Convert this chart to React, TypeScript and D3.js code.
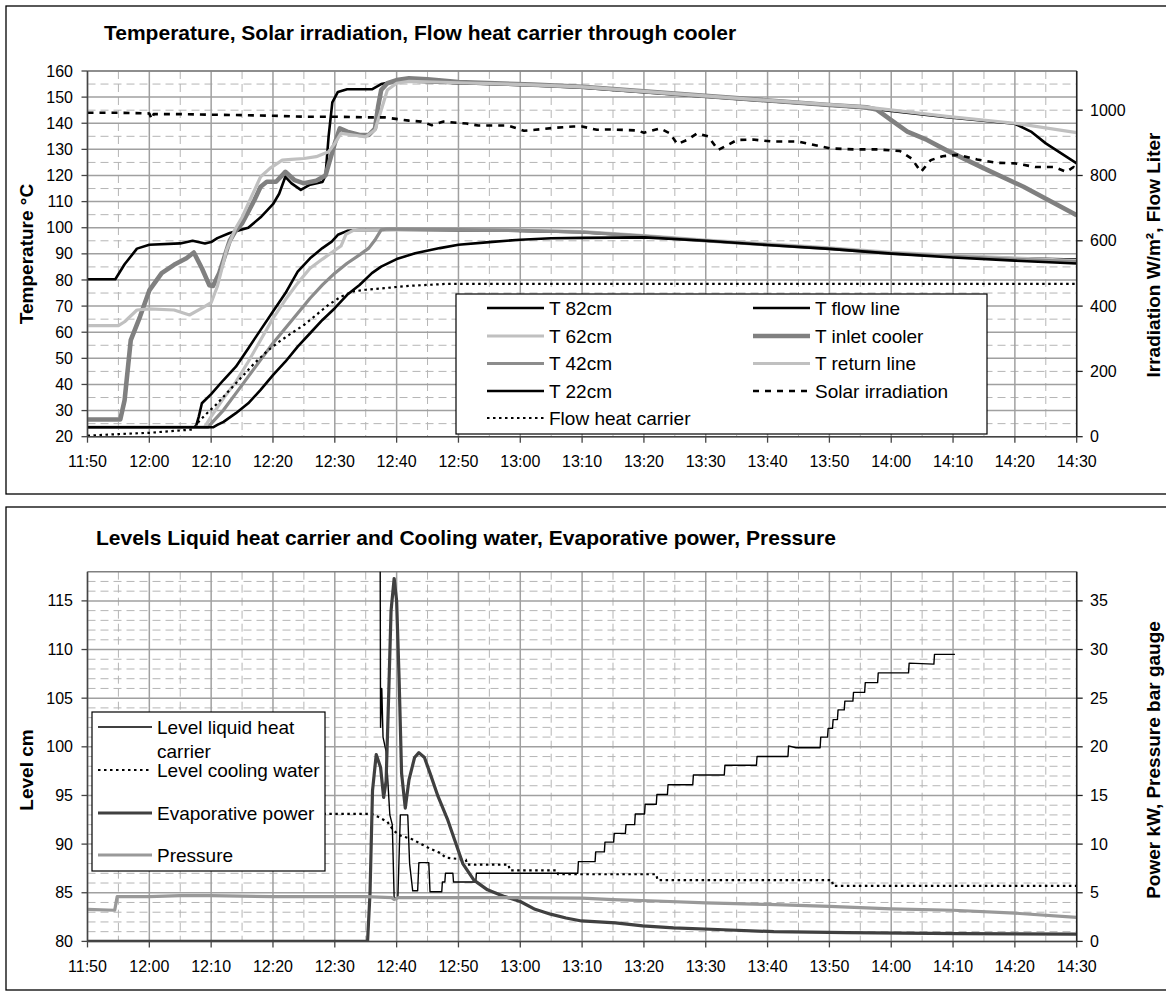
import React from "react";
import * as d3 from "d3";

type P = [number, number];

// ---------- axis labels / ticks ----------
const timeLabels = ["11:50","12:00","12:10","12:20","12:30","12:40","12:50","13:00","13:10","13:20","13:30","13:40","13:50","14:00","14:10","14:20","14:30"];
const timeMinutes = [0,10,20,30,40,50,60,70,80,90,100,110,120,130,140,150,160]; // minutes after 11:50
const tempTicks = [20,30,40,50,60,70,80,90,100,110,120,130,140,150,160];
const irrTicks = [0,200,400,600,800,1000];
const levelTicks = [80,85,90,95,100,105,110,115];
const powerTicks = [0,5,10,15,20,25,30,35];

// ---------- top chart series: [minutes after 11:50, value] ----------
const T82: P[] = [[0,23.6],[17.5,23.6],[18,27.7],[18.5,32.8],[20,36.3],[22,41.7],[24,46.8],[26,53.8],[28,60.9],[30,67.9],[32,74.9],[34,83.2],[36,88.3],[38,92.2],[39.5,94.7],[40.5,97.3],[42,98.8],[44,99.1],[50,99.2],[60,99],[70,98.8],[80,98.3],[90,96.8],[100,95],[110,93.6],[120,92.1],[130,90.3],[140,89.2],[150,88.3],[160,87.8]];
const T62: P[] = [[0,23.6],[18.9,23.6],[20,27.7],[22,34.7],[24,41],[26,48.7],[28,57],[30,65.3],[32,72.4],[34,78.8],[36,84.5],[38,88],[39.5,90.5],[41,93],[41.8,97.5],[43,99],[50,99.3],[60,99.2],[70,99],[80,98.5],[90,97],[100,95.3],[110,93.8],[120,92.3],[130,90.6],[140,89.4],[150,88.4],[160,87.4]];
const T42: P[] = [[0,23.6],[19.5,23.6],[20,25],[22,30.2],[24,36.6],[26,43],[28,49.4],[30,55.8],[32,61.5],[34,67.3],[36,73],[38,78.1],[40,82.6],[42,86.4],[44,89.6],[45.5,92.2],[46.5,95.3],[47.5,99.2],[48.5,99.5],[60,99.3],[70,99],[80,98.3],[90,96.8],[100,95],[110,93.4],[120,92],[130,90.2],[140,89],[150,87.9],[160,87]];
const T22: P[] = [[0,23.6],[20.3,23.6],[21,24.5],[22,25.7],[24,29],[26,32.8],[28,37.9],[30,43.6],[32,48.7],[34,54.5],[36,59.6],[38,64.7],[40,69.2],[42,74.3],[44,78.1],[46,82.6],[47.5,85.1],[50,88],[53,90.2],[57,92.2],[60,93.5],[65,94.5],[70,95.4],[75,96],[80,96.1],[90,96.3],[100,95],[110,93.4],[120,91.9],[130,90.1],[140,88.6],[150,87.4],[160,86.3]];
const TFlowLine: P[] = [[0,80.3],[4.5,80.3],[6,86],[8,92],[10,93.5],[15,94],[17,95],[19,94],[20,94.5],[21,96],[23,98],[26,100],[28,104],[30,109],[31,113],[32,119.5],[33,117],[34.5,114.5],[36,116.5],[38,117.5],[38.5,120],[39,135],[39.6,148],[40.5,152],[42,153],[46,153],[47.5,155],[49,155.7],[52,156],[60,155.3],[72,154.5],[80,153.6],[101,150],[120,146.8],[126,145.8],[139,142.3],[150,139.8],[152.6,136.8],[155,132.3],[160,124.6]];
const TInletCooler: P[] = [[0,26.6],[5.3,26.6],[6,34],[7,57],[8.5,66],[10,76],[12,82.6],[14,85.8],[16,88.3],[17.2,90.5],[18.5,84.5],[19.7,78],[20.3,77.7],[21.3,82.6],[22,87.7],[23,95],[24,99],[25,101.6],[27,110.6],[28,115.7],[29,117.6],[30.5,117.6],[32,121.4],[33.5,118.2],[35,117],[37,118],[38.5,120],[40,132.3],[40.8,138],[42,136.8],[44,135.5],[45.5,135.5],[46.5,138],[47,146.3],[47.5,152.7],[48.5,155.3],[50,156.5],[52,157.2],[55,156.8],[60,155.8],[72,154.8],[80,154],[101,150.3],[120,147],[126,146.1],[127.6,145.3],[130,141.2],[132.6,136.8],[135.8,133.6],[138.9,129.7],[145,122.7],[151.4,115.7],[160,104.8]];
const TReturnLine: P[] = [[0,62.5],[5,62.5],[6,64],[8,68.5],[10,68.9],[14,68.5],[16.5,66.6],[18.5,69.2],[20,71.3],[21,77.5],[22.5,91.5],[24,100],[25,104],[26.5,111.8],[28,119.5],[29.5,122.7],[31.5,125.9],[33,126.2],[35,126.5],[37,127.2],[39,129.1],[40,132.3],[41,136.1],[43,135.5],[45,134.8],[46.5,137.4],[47.5,145],[48.5,152.7],[50,155.3],[52,156],[60,155.5],[72,154.7],[80,153.9],[101,150.3],[120,147.1],[126,146.2],[139,142.6],[150,140],[160,136.4]];
const SolarIrradiation: P[] = [[0,992],[5,992],[10,990],[10.4,972],[10.7,988],[15,988],[20,986],[25,985],[30,983],[35,980],[40,980],[45,978],[48,978],[52,968],[54,965],[55.7,954],[57.6,965],[61.3,959],[63.2,953],[68,953],[70.6,937],[72.4,940],[75.5,946],[78.6,950],[80,950],[82.4,940],[84.5,941],[88.9,938],[90,931],[92.6,944],[94.2,929],[95.4,896],[97,909],[98.6,929],[100.4,920],[102,878],[103.5,893],[105.1,909],[107.6,910],[110.8,904],[115,904],[120.1,883],[123.9,880],[127.6,880],[131.4,875],[133.3,852],[134.8,811],[136.4,847],[138.3,859],[140.8,863],[143.9,849],[147,839],[150.1,837],[153.3,826],[156.4,826],[158.3,811],[159.5,826],[160,822]];
const FlowHeatCarrier: P[] = [[0,3],[5,8],[10,12],[17,22],[18,46],[19,66],[21,102],[23,143],[25,184],[27,225],[29,261],[31,291],[33,317],[35,342],[37,373],[39,404],[41,429],[43,445],[45,450],[48,455],[52,462],[58,468],[160,468]];

// ---------- bottom chart series ----------
const LevelLiquid: P[] = [[47.3,130],[47.4,102],[47.6,106],[47.8,101],[48.3,99.5],[48.9,93],[49.3,92],[49.6,84.5],[50.2,84.5],[50.6,93],[51.8,93],[52.1,88],[52.6,85.2],[53.4,85.2],[53.6,88.1],[55.2,88.1],[55.4,85.1],[57.3,85.1],[57.4,86.1],[57.8,86.1],[57.9,87],[59.1,87],[59.2,86.1],[62.8,86.1],[62.9,87],[79.3,87],[79.4,88.2],[82.1,88.2],[82.2,89.2],[83.6,89.2],[83.7,90.2],[85.1,90.2],[85.2,91.1],[87,91.1],[87.1,92],[88.5,92],[88.6,93.1],[90.1,93.1],[90.2,94.1],[92,94.1],[92.1,95.1],[93.8,95.1],[93.9,96.1],[97.9,96.1],[98,97.1],[103,97.1],[103.1,98.1],[108.2,98.1],[108.3,99],[113.3,99],[113.4,100.1],[114.6,99.9],[118.5,99.9],[118.6,101],[119.7,101],[119.8,101.9],[120.5,101.9],[120.6,102.8],[121.3,102.8],[121.4,103.8],[122.4,103.8],[122.5,104.7],[123.8,104.7],[123.9,105.6],[125.7,105.6],[125.8,106.6],[127.8,106.6],[127.9,107.6],[132.8,107.6],[132.9,108.6],[136.9,108.5],[137,109.5],[140.3,109.5]];
const LevelCoolingWater: P[] = [[10,93.1],[46,93.1],[47,92.8],[48.5,92.3],[49.5,91.4],[50.5,90.9],[52.5,90.5],[54,90],[55.5,89.5],[57,89.1],[58,88.6],[61.2,88.4],[61.4,87.9],[68.1,87.9],[68.3,87.3],[75.9,87.3],[76.1,86.9],[92,86.9],[92.2,86.3],[120.4,86.3],[120.6,85.7],[160,85.7]];
const EvaporativePower: P[] = [[0,0],[45.3,0],[45.7,5],[46.1,15.5],[46.7,19.2],[47.4,17.9],[47.9,14.8],[48.3,16.5],[48.7,25],[49.1,34],[49.6,37.3],[50,35],[50.4,27],[50.8,17.3],[51.4,13.7],[52,16.6],[52.9,18.9],[53.6,19.4],[54.5,18.9],[55.4,17.3],[56.7,14.9],[58.2,12.6],[59.4,10.4],[60.7,8],[62.5,6.3],[64.7,5.3],[67.5,4.6],[70,4.1],[72.4,3.3],[74.9,2.8],[77.4,2.4],[79.9,2.1],[85.4,1.9],[89.8,1.6],[94.8,1.4],[102.9,1.2],[111,1.0],[122.9,0.9],[140.9,0.8],[160,0.75]];
const Pressure: P[] = [[0,3.3],[4.4,3.2],[4.8,4.6],[10,4.6],[15,4.7],[20,4.7],[30,4.6],[45,4.6],[49.2,4.5],[49.6,4.3],[50.3,4.5],[60,4.5],[70,4.5],[80,4.45],[85,4.3],[92,4.15],[100,3.95],[110,3.8],[120,3.6],[130,3.35],[140,3.2],[150,2.9],[160,2.46]];

const FONT = "'Liberation Sans', Arial, Helvetica, sans-serif";

type Series = { name: string; data: P[]; axis: "L" | "R"; stroke: string; width: number; dash?: string };

const topSeries: Series[] = [
  { name: "T 82cm", data: T82, axis: "L", stroke: "#000", width: 2.6 },
  { name: "T flow line", data: TFlowLine, axis: "L", stroke: "#000", width: 2.6 },
  { name: "T 62cm", data: T62, axis: "L", stroke: "#c0c0c0", width: 3.2 },
  { name: "T inlet cooler", data: TInletCooler, axis: "L", stroke: "#808080", width: 4.6 },
  { name: "T 42cm", data: T42, axis: "L", stroke: "#8c8c8c", width: 3.2 },
  { name: "T return line", data: TReturnLine, axis: "L", stroke: "#c0c0c0", width: 3.2 },
  { name: "T 22cm", data: T22, axis: "L", stroke: "#000", width: 2.6 },
  { name: "Solar irradiation", data: SolarIrradiation, axis: "R", stroke: "#000", width: 2.6, dash: "6,6" },
  { name: "Flow heat carrier", data: FlowHeatCarrier, axis: "R", stroke: "#000", width: 2.2, dash: "2.5,3.5" },
];

const bottomSeries: Series[] = [
  { name: "Level liquid heat carrier", data: LevelLiquid, axis: "L", stroke: "#000", width: 1.4 },
  { name: "Level cooling water", data: LevelCoolingWater, axis: "L", stroke: "#000", width: 2.2, dash: "2.5,3.5" },
  { name: "Evaporative power", data: EvaporativePower, axis: "R", stroke: "#404040", width: 3.2 },
  { name: "Pressure", data: Pressure, axis: "R", stroke: "#999", width: 3.2 },
];

const X0 = 87.5, X1 = 1076.7;

function Panel(props: {
  id: string; boxY0: number; boxY1: number; title: string; titleX: number; titleY: number;
  py0: number; py1: number; yL: d3.ScaleLinear<number, number>; yR: d3.ScaleLinear<number, number>;
  lTicks: number[]; rTicks: number[]; minorY: number[]; majorY: number[];
  leftTitle: string; leftTitleY: number; rightTitle: string; rightTitleY: number;
  series: Series[]; legend: React.ReactNode;
}) {
  const { yL, yR, py0, py1 } = props;
  const x = d3.scaleLinear().domain([0, 160]).range([X0, X1]);
  const minorX = d3.range(5, 160, 10);
  return (
    <g>
      <rect x={6} y={props.boxY0} width={1170} height={props.boxY1 - props.boxY0} fill="#fff" stroke="#000" strokeWidth={1.3} />
      <text x={props.titleX} y={props.titleY} fontFamily={FONT} fontWeight="bold" fontSize={21}>{props.title}</text>
      <rect x={X0} y={py0} width={X1 - X0} height={py1 - py0} fill="#fff" />
      {props.minorY.map((v) => (
        <line key={"my" + v} x1={X0} x2={X1} y1={yL(v)} y2={yL(v)} stroke="#b5b5b5" strokeWidth={1} strokeDasharray="8,5" />
      ))}
      {minorX.map((m) => (
        <line key={"mx" + m} x1={x(m)} x2={x(m)} y1={py0} y2={py1} stroke="#b5b5b5" strokeWidth={1} strokeDasharray="8,5" />
      ))}
      {props.majorY.map((v) => (
        <line key={"gy" + v} x1={X0} x2={X1} y1={yL(v)} y2={yL(v)} stroke="#a0a0a0" strokeWidth={1.5} />
      ))}
      {timeMinutes.map((m) => (
        <line key={"gx" + m} x1={x(m)} x2={x(m)} y1={py0} y2={py1} stroke="#a0a0a0" strokeWidth={1.5} />
      ))}
      <line x1={X0} x2={X1} y1={py0} y2={py0} stroke="#808080" strokeWidth={1.5} />
      <clipPath id={props.id}>
        <rect x={X0} y={py0} width={X1 - X0} height={py1 - py0} />
      </clipPath>
      <g clipPath={`url(#${props.id})`}>
        {props.series.map((s) => {
          const ys = s.axis === "L" ? yL : yR;
          const gen = d3.line<P>().x((d) => x(d[0])).y((d) => ys(d[1]));
          return (
            <path key={s.name} d={gen(s.data) || ""} fill="none" stroke={s.stroke} strokeWidth={s.width}
              strokeDasharray={s.dash} strokeLinejoin="round" />
          );
        })}
      </g>
      <line x1={X0} x2={X0} y1={py0} y2={py1} stroke="#444" strokeWidth={1.5} />
      <line x1={X1} x2={X1} y1={py0} y2={py1} stroke="#222" strokeWidth={1.5} />
      <line x1={X0} x2={X1} y1={py1} y2={py1} stroke="#444" strokeWidth={1.5} />
      {timeMinutes.map((m, i) => (
        <g key={"xt" + m}>
          <line x1={x(m)} x2={x(m)} y1={py1} y2={py1 + 6} stroke="#444" strokeWidth={1.3} />
          <text x={x(m)} y={py1 + 30.5} textAnchor="middle" fontFamily={FONT} fontSize={16}>{timeLabels[i]}</text>
        </g>
      ))}
      {props.lTicks.map((v) => (
        <g key={"lt" + v}>
          <line x1={X0 - 6} x2={X0} y1={yL(v)} y2={yL(v)} stroke="#444" strokeWidth={1.3} />
          <text x={73} y={yL(v)} dy="0.35em" textAnchor="end" fontFamily={FONT} fontSize={16}>{v}</text>
        </g>
      ))}
      {props.rTicks.map((v) => (
        <g key={"rt" + v}>
          <line x1={X1} x2={X1 + 6} y1={yR(v)} y2={yR(v)} stroke="#222" strokeWidth={1.3} />
          <text x={1090} y={yR(v)} dy="0.35em" textAnchor="start" fontFamily={FONT} fontSize={16}>{v}</text>
        </g>
      ))}
      <text transform={`translate(26,${props.leftTitleY}) rotate(-90)`} dy="0.35em" textAnchor="middle"
        fontFamily={FONT} fontWeight="bold" fontSize={19}>{props.leftTitle}</text>
      <text transform={`translate(1153,${props.rightTitleY}) rotate(-90)`} dy="0.35em" textAnchor="middle"
        fontFamily={FONT} fontWeight="bold" fontSize={19}>{props.rightTitle}</text>
      {props.legend}
    </g>
  );
}

function LegendItem({ s, x, y, len, label }: { s: Series; x: number; y: number; len: number; label?: React.ReactNode }) {
  return (
    <g>
      <line x1={x} x2={x + len} y1={y} y2={y} stroke={s.stroke} strokeWidth={s.width} strokeDasharray={s.dash} />
      <text x={x + len + 5} y={y} dy="0.35em" fontFamily={FONT} fontSize={19}>{label ?? s.name}</text>
    </g>
  );
}

export default function App() {
  const topY0 = 71, topY1 = 436.7;
  const yT = d3.scaleLinear().domain([20, 160]).range([topY1, topY0]);
  const yIrr = d3.scaleLinear().domain([0, 1120]).range([topY1, topY0]);
  const botY0 = 571.7, botY1 = 941.4;
  const yLev = d3.scaleLinear().domain([80, 118]).range([botY1, botY0]);
  const yPow = d3.scaleLinear().domain([0, 38]).range([botY1, botY0]);

  const byName = (arr: Series[], n: string) => arr.find((s) => s.name === n)!;
  const leftCol = ["T 82cm", "T 62cm", "T 42cm", "T 22cm", "Flow heat carrier"];
  const rightCol = ["T flow line", "T inlet cooler", "T return line", "Solar irradiation"];
  const rowsTop = [308, 336, 363.5, 391, 418];

  const topLegend = (
    <g>
      <rect x={456} y={294} width={531} height={140} fill="#fff" stroke="#000" strokeWidth={1.2} />
      {leftCol.map((n, i) => (
        <LegendItem key={n} s={byName(topSeries, n)} x={487} y={rowsTop[i]} len={57} />
      ))}
      {rightCol.map((n, i) => (
        <LegendItem key={n} s={byName(topSeries, n)} x={753} y={rowsTop[i]} len={57} />
      ))}
    </g>
  );

  const botLegend = (
    <g>
      <rect x={92} y={712} width={233} height={159} fill="#fff" stroke="#000" strokeWidth={1.2} />
      <LegendItem s={bottomSeries[0]} x={98} y={727} len={54} label="Level liquid heat" />
      <text x={157} y={751} dy="0.35em" fontFamily={FONT} fontSize={19}>carrier</text>
      <LegendItem s={bottomSeries[1]} x={98} y={770} len={54} />
      <LegendItem s={bottomSeries[2]} x={98} y={813} len={54} />
      <LegendItem s={bottomSeries[3]} x={98} y={855} len={54} />
    </g>
  );

  const topMinor = [25, 35, 45, 55, 65, 75, 85, 95, 105, 115, 125, 135, 145, 155];
  const botMinor = d3.range(81, 118).filter((v) => v % 5 !== 0);

  return (
    <svg width={1166} height={994} style={{ position: "absolute", left: 0, top: 0, display: "block", background: "#fff" }}>
      <rect x={0} y={0} width={1166} height={994} fill="#fff" />
      <Panel id="clipTop" boxY0={6} boxY1={494} title="Temperature, Solar irradiation, Flow heat carrier through cooler"
        titleX={104} titleY={40} py0={topY0} py1={topY1} yL={yT} yR={yIrr}
        lTicks={tempTicks} rTicks={irrTicks} minorY={topMinor} majorY={tempTicks}
        leftTitle="Temperature °C" leftTitleY={254} rightTitle="Irradiation W/m², Flow Liter" rightTitleY={255}
        series={topSeries} legend={topLegend} />
      <Panel id="clipBot" boxY0={507} boxY1={990} title="Levels Liquid heat carrier and Cooling water,  Evaporative power,  Pressure"
        titleX={96} titleY={545} py0={botY0} py1={botY1} yL={yLev} yR={yPow}
        lTicks={levelTicks} rTicks={powerTicks} minorY={botMinor} majorY={levelTicks}
        leftTitle="Level cm" leftTitleY={770} rightTitle="Power kW, Pressure bar gauge" rightTitleY={760}
        series={bottomSeries} legend={botLegend} />
    </svg>
  );
}
